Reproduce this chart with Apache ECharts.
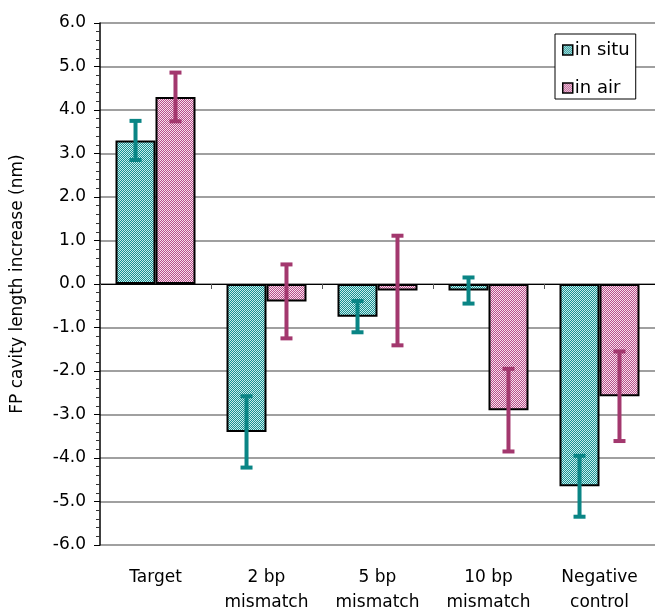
<!DOCTYPE html>
<html>
<head>
<meta charset="utf-8">
<script src="https://cdn.jsdelivr.net/npm/echarts@6/dist/echarts.min.js"></script>
<style>html,body{margin:0;padding:0;background:#fff;}#c{width:655px;height:615px;}</style>
</head>
<body>
<div id="c"></div>
<script>
const categories = ['Target', '2 bp\nmismatch', '5 bp\nmismatch', '10 bp\nmismatch', 'Negative\ncontrol'];
const inSitu = [3.3, -3.4, -0.75, -0.15, -4.65];
const inSituErr = [0.45, 0.82, 0.36, 0.3, 0.7];
const inAir = [4.3, -0.4, -0.15, -2.9, -2.58];
const inAirErr = [0.56, 0.85, 1.26, 0.95, 1.03];
const yTicks = { min: -6, max: 6, interval: 1 };

function hatch(bg, fg) {
  const c = document.createElement('canvas');
  c.width = 4; c.height = 4;
  const g = c.getContext('2d');
  g.fillStyle = bg; g.fillRect(0, 0, 4, 4);
  g.fillStyle = fg;
  for (let i = 0; i < 4; i++) { g.fillRect(i, 3 - i, 1, 1); g.fillRect((i + 2) % 4, 3 - i, 1, 1); }
  return { image: c, repeat: 'repeat' };
}
const tealPat = hatch('#c8eeee', '#1a9090');
const pinkPat = hatch('#f8e0ec', '#b6508a');

function errData(vals, errs) { return vals.map((v, i) => [i, v - errs[i], v + errs[i]]); }

function errRender(color, side) {
  return function (params, api) {
    const x = api.value(0);
    const lo = api.coord([x, api.value(1)]);
    const hi = api.coord([x, api.value(2)]);
    const bw = api.size([1, 0])[0];
    const cx = lo[0] + side * bw * 0.18;
    const cap = 6;
    const style = { stroke: color, lineWidth: 4 };
    return {
      type: 'group',
      children: [
        { type: 'line', shape: { x1: cx, y1: lo[1], x2: cx, y2: hi[1] }, style },
        { type: 'line', shape: { x1: cx - cap, y1: lo[1], x2: cx + cap, y2: lo[1] }, style },
        { type: 'line', shape: { x1: cx - cap, y1: hi[1], x2: cx + cap, y2: hi[1] }, style }
      ]
    };
  };
}

const chart = echarts.init(document.getElementById('c'), null, { renderer: 'canvas' });
const font = 'DejaVu Sans, Arial, sans-serif';
chart.setOption({
  animation: false,
  textStyle: { fontFamily: font },
  grid: { left: 100, top: 23, width: 558, height: 525, containLabel: false },
  legend: {
    data: [{ name: 'in situ' }, { name: 'in air' }],
    orient: 'vertical', left: 555, top: 34,
    itemWidth: 10, itemHeight: 10, itemGap: 16,
    padding: [5, 6, 0, 7],
    borderColor: '#000', borderWidth: 1, backgroundColor: '#fff',
    textStyle: { fontSize: 18, lineHeight: 22, color: '#000', fontFamily: font, padding: [0, 0, 0, -3] },
    icon: 'rect',
    itemStyle: { borderColor: '#000', borderWidth: 1.5 }
  },
  xAxis: [
    {
      type: 'category', data: categories, position: 'bottom',
      axisLine: { onZero: true, lineStyle: { color: '#000', width: 1 } },
      axisTick: { show: true, length: 5, inside: false, lineStyle: { color: '#555' } },
      axisLabel: { show: false },
      splitLine: { show: false }
    },
    {
      type: 'category', data: categories, position: 'bottom', offset: 0,
      axisLine: { show: false }, axisTick: { show: false },
      axisLabel: { show: true, fontSize: 17, color: '#000', margin: 20, lineHeight: 25, interval: 0 }
    }
  ],
  yAxis: {
    type: 'value', min: yTicks.min, max: yTicks.max, interval: yTicks.interval,
    name: 'FP cavity length increase (nm)', nameLocation: 'middle', nameGap: 74,
    nameTextStyle: { fontSize: 17, color: '#000', fontFamily: font },
    axisLine: { show: true, lineStyle: { color: '#000', width: 1.5 } },
    axisTick: { show: true, length: 6, lineStyle: { color: '#000' } },
    minorTick: { show: true, splitNumber: 5, length: 4, lineStyle: { color: '#333' } },
    axisLabel: { fontSize: 17, color: '#000', margin: 14, formatter: v => v.toFixed(1) },
    splitLine: { show: true, lineStyle: { color: '#808080', width: 1.5 } }
  },
  series: [
    {
      name: 'in situ', type: 'bar', data: inSitu, barWidth: 40, barGap: '0%', xAxisIndex: 0,
      itemStyle: { color: tealPat, borderColor: '#000', borderWidth: 2 }
    },
    {
      name: 'in air', type: 'bar', data: inAir, barWidth: 40, barGap: '0%', xAxisIndex: 0,
      itemStyle: { color: pinkPat, borderColor: '#000', borderWidth: 2 }
    },
    {
      name: 'err1', type: 'custom', xAxisIndex: 0, data: errData(inSitu, inSituErr),
      renderItem: errRender('#0a8585', -1), encode: { x: 0, y: [1, 2] }, z: 5
    },
    {
      name: 'err2', type: 'custom', xAxisIndex: 0, data: errData(inAir, inAirErr),
      renderItem: errRender('#a3386e', 1), encode: { x: 0, y: [1, 2] }, z: 5
    }
  ]
});
</script>
</body>
</html>
